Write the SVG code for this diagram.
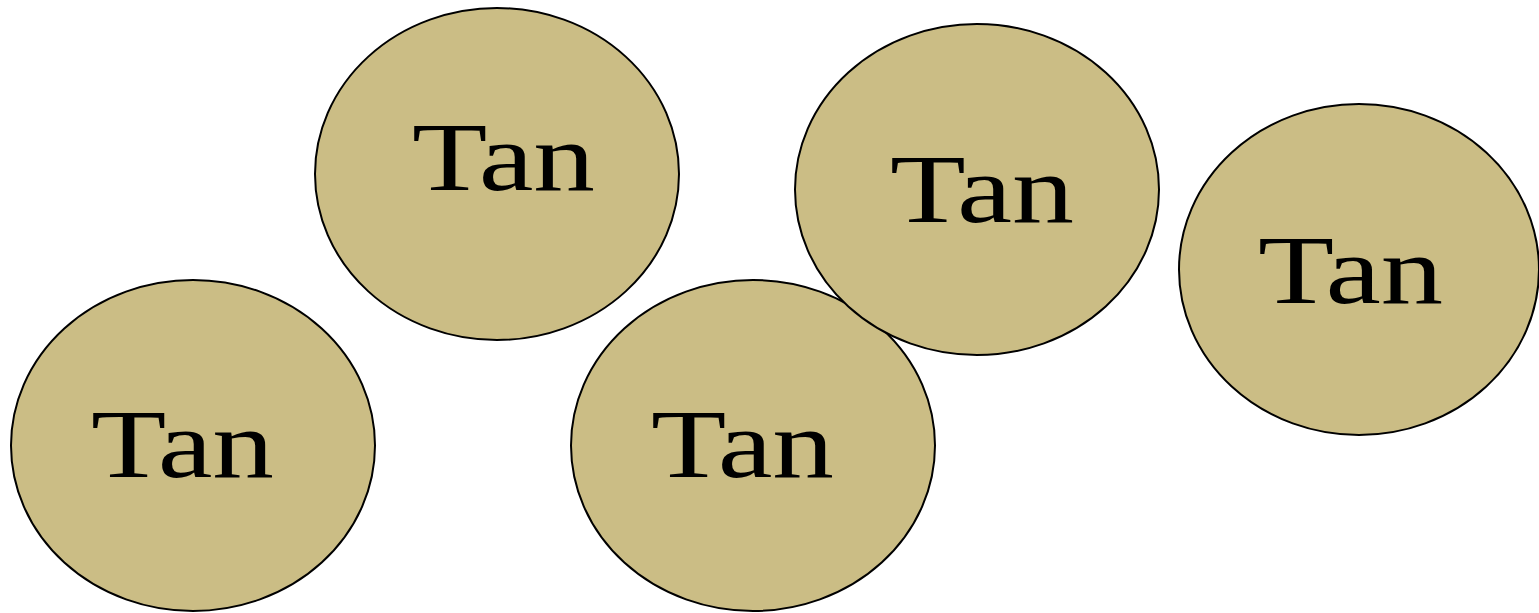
<svg xmlns="http://www.w3.org/2000/svg" width="1539" height="613" viewBox="0 0 1539 613">
<style>
.n{fill:#CBBD85;stroke:#000;stroke-width:2}
.t{font-family:"Liberation Serif",serif;font-size:98px;fill:#000;text-anchor:start}
</style>
<rect width="1539" height="613" fill="#fff"/>
<g id="node1"><ellipse class="n" cx="497" cy="174" rx="182" ry="166"/><text class="t" x="412" y="190" textLength="183" lengthAdjust="spacingAndGlyphs">Tan</text></g>
<g id="node2"><ellipse class="n" cx="193" cy="445.5" rx="182" ry="165.5"/><text class="t" x="91" y="477" textLength="183" lengthAdjust="spacingAndGlyphs">Tan</text></g>
<g id="node3"><ellipse class="n" cx="753" cy="445.5" rx="182" ry="165.5"/><text class="t" x="651" y="477" textLength="183" lengthAdjust="spacingAndGlyphs">Tan</text></g>
<g id="node4"><ellipse class="n" cx="977" cy="189.5" rx="182" ry="165.5"/><text class="t" x="890" y="222" textLength="184" lengthAdjust="spacingAndGlyphs">Tan</text></g>
<g id="node5"><ellipse class="n" cx="1359" cy="269.5" rx="180" ry="165.5"/><text class="t" x="1258" y="303" textLength="185" lengthAdjust="spacingAndGlyphs">Tan</text></g>
<g id="connectors"></g>
</svg>
